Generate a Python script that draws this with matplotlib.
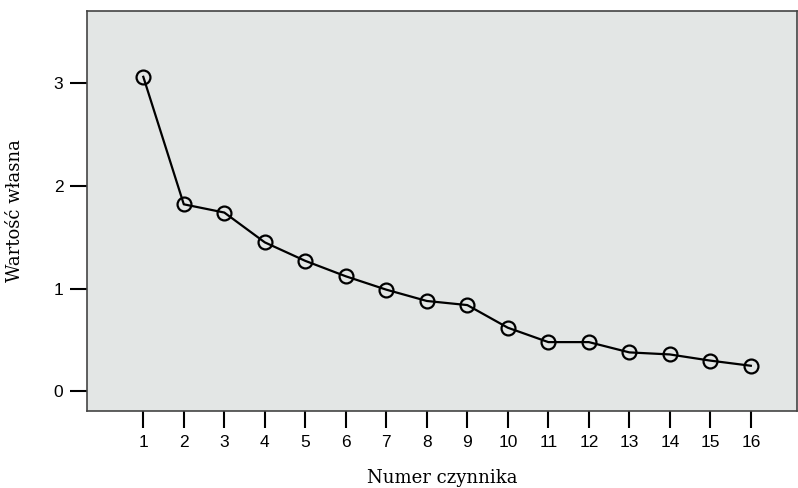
import matplotlib
matplotlib.use("Agg")
import matplotlib.pyplot as plt

plt.rcParams["font.family"] = ["Liberation Sans", "DejaVu Sans"]

factors = list(range(1, 17))
eigenvalues = [3.06, 1.82, 1.74, 1.45, 1.27, 1.12, 0.99, 0.88,
               0.84, 0.62, 0.48, 0.48, 0.38, 0.36, 0.30, 0.25]
y_ticks = [0, 1, 2, 3]

fig = plt.figure(figsize=(7.98, 4.88), dpi=100)
ax = fig.add_axes([87 / 798, 77 / 488, 710 / 798, 400 / 488])
ax.set_facecolor("#e3e6e5")

ax.plot(factors, eigenvalues, color="black", linewidth=1.6, marker="o",
        markersize=10, markerfacecolor="none", markeredgecolor="black",
        markeredgewidth=1.6)

ax.set_xlim(-0.39, 17.14)
ax.set_ylim(-0.19, 3.70)
ax.set_xticks(factors)
ax.set_yticks(y_ticks)
ax.tick_params(direction="out", length=12, width=1.5, labelsize=12.5, pad=5)

for side in ["left", "top", "bottom", "right"]:
    ax.spines[side].set_color("#444444")
    ax.spines[side].set_linewidth(1.2)

ax.set_xlabel("Numer czynnika", family="DejaVu Serif", fontsize=13, labelpad=14)
ax.set_ylabel("Wartość własna", family="DejaVu Serif", fontsize=13, labelpad=21)

fig.savefig("out.png", dpi=100)
